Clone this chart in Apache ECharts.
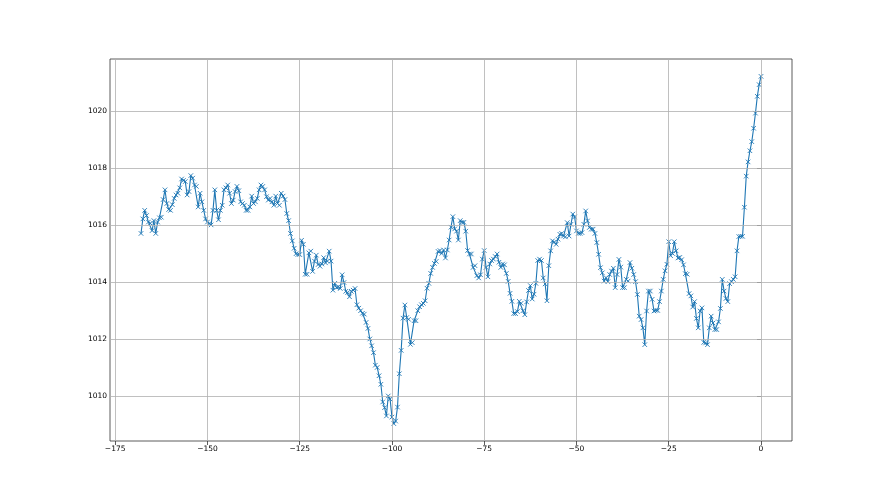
<!DOCTYPE html>
<html>
<head>
<meta charset="utf-8">
<script src="https://cdn.jsdelivr.net/npm/echarts@6/dist/echarts.min.js"></script>
<style>
html,body{margin:0;padding:0;background:#fff;}
#chart{width:880px;height:495px;}
</style>
</head>
<body>
<div id="chart"></div>
<script>
// Time axis: hours before now, one reading every half hour
const startHour = -168;
const stepHours = 0.5;

// Pressure readings (hPa)
const pressure = [
1015.70, 1016.21, 1016.51, 1016.33, 1016.10, 1016.06, 1015.80, 1016.15, 1015.70, 1016.10,
1016.25, 1016.27, 1016.89, 1017.23, 1016.75, 1016.54, 1016.51, 1016.71, 1016.93, 1017.05,
1017.11, 1017.30, 1017.61, 1017.56, 1017.52, 1017.05, 1017.17, 1017.73, 1017.64, 1017.40,
1017.35, 1016.63, 1017.11, 1016.81, 1016.51, 1016.21, 1016.10, 1016.05, 1016.00, 1016.51,
1017.23, 1016.51, 1016.18, 1016.51, 1016.69, 1017.23, 1017.30, 1017.40, 1017.11, 1016.75,
1016.87, 1017.17, 1017.35, 1017.20, 1016.81, 1016.75, 1016.69, 1016.51, 1016.51, 1016.63,
1017.01, 1016.75, 1016.81, 1016.93, 1017.23, 1017.40, 1017.35, 1017.23, 1016.99, 1016.87,
1016.93, 1016.81, 1016.69, 1017.01, 1016.75, 1016.69, 1017.11, 1017.01, 1016.89, 1016.40,
1016.15, 1015.70, 1015.44, 1015.18, 1014.99, 1014.96, 1014.96, 1015.46, 1015.32, 1014.27,
1014.27, 1015.02, 1015.08, 1014.37, 1014.73, 1014.94, 1014.61, 1014.55, 1014.63, 1014.85,
1014.67, 1014.73, 1015.08, 1014.73, 1013.71, 1013.95, 1013.80, 1013.83, 1013.77, 1014.25,
1013.98, 1013.67, 1013.63, 1013.48, 1013.67, 1013.71, 1013.77, 1013.20, 1013.08, 1012.99,
1012.90, 1012.87, 1012.58, 1012.37, 1012.00, 1011.76, 1011.52, 1011.08, 1011.00, 1010.71,
1010.41, 1009.79, 1009.59, 1009.30, 1010.00, 1009.89, 1009.26, 1009.03, 1009.12, 1009.61,
1010.78, 1011.60, 1012.73, 1013.19, 1012.75, 1012.69, 1011.81, 1011.87, 1012.64, 1012.64,
1012.99, 1013.13, 1013.20, 1013.25, 1013.34, 1013.78, 1013.95, 1014.30, 1014.51, 1014.65,
1014.72, 1015.07, 1015.10, 1015.00, 1015.12, 1014.84, 1015.12, 1015.47, 1015.92, 1016.29,
1015.86, 1015.78, 1015.47, 1016.15, 1016.09, 1016.09, 1015.78, 1015.10, 1014.98, 1014.98,
1014.51, 1014.57, 1014.22, 1014.14, 1014.25, 1014.80, 1015.10, 1014.51, 1014.18, 1014.63,
1014.75, 1014.80, 1014.89, 1014.98, 1014.69, 1014.51, 1014.63, 1014.60, 1014.30, 1014.02,
1013.60, 1013.32, 1012.89, 1012.89, 1012.96, 1013.32, 1013.25, 1012.99, 1012.85, 1013.30,
1013.70, 1013.87, 1013.40, 1013.57, 1013.95, 1014.75, 1014.80, 1014.75, 1014.14, 1013.93,
1013.34, 1014.57, 1015.09, 1015.44, 1015.40, 1015.32, 1015.50, 1015.67, 1015.70, 1015.61,
1015.58, 1016.08, 1015.61, 1016.02, 1016.38, 1016.28, 1015.79, 1015.70, 1015.70, 1015.73,
1016.02, 1016.49, 1016.14, 1015.91, 1015.85, 1015.85, 1015.70, 1015.38, 1014.97, 1014.50,
1014.32, 1014.03, 1014.15, 1014.01, 1014.26, 1014.38, 1014.48, 1013.80, 1014.26, 1014.79,
1014.52, 1013.80, 1013.80, 1014.09, 1014.03, 1014.68, 1014.48, 1014.26, 1014.01, 1013.56,
1012.80, 1012.68, 1012.39, 1011.80, 1012.98, 1013.68, 1013.68, 1013.39, 1012.98, 1013.00,
1013.00, 1013.31, 1013.68, 1014.09, 1014.39, 1014.62, 1015.41, 1014.92, 1015.00, 1015.41,
1015.09, 1014.84, 1014.86, 1014.78, 1014.60, 1014.29, 1014.27, 1013.59, 1013.51, 1013.12,
1013.31, 1012.72, 1012.39, 1012.98, 1013.09, 1011.88, 1011.86, 1011.80, 1012.39, 1012.80,
1012.56, 1012.33, 1012.33, 1012.60, 1013.07, 1014.09, 1013.68, 1013.42, 1013.31, 1013.94,
1014.01, 1014.09, 1014.18, 1015.09, 1015.59, 1015.60, 1015.60, 1016.62, 1017.71, 1018.21,
1018.60, 1018.92, 1019.39, 1019.92, 1020.51, 1020.92, 1021.21
];

// Tick labels
const xTicks = [-175, -150, -125, -100, -75, -50, -25, 0];
const yTicks = [1010, 1012, 1014, 1016, 1018, 1020];

const hours = pressure.map((_, i) => startHour + i * stepHours);
const points = pressure.map((v, i) => [hours[i], v]);

// axis limits with matplotlib-like 5% margins
const xMin0 = Math.min(...hours), xMax0 = Math.max(...hours);
const yMin0 = Math.min(...pressure), yMax0 = Math.max(...pressure);
const xPad = (xMax0 - xMin0) * 0.05, yPad = (yMax0 - yMin0) * 0.05;

const fmt = v => (v < 0 ? '\u2212' + Math.abs(v) : String(v));
const labelStyle = { color: '#000', fontSize: 7.5, fontFamily: 'DejaVu Sans' };

const chart = echarts.init(document.getElementById('chart'), null, { renderer: 'canvas' });
chart.setOption({
  animation: false,
  backgroundColor: '#fff',
  grid: { left: 110, top: 59, width: 682, height: 382, show: true, borderColor: '#333', borderWidth: 0.8, backgroundColor: 'transparent' },
  xAxis: {
    type: 'value', min: xMin0 - xPad, max: xMax0 + xPad,
    axisLine: { show: false },
    axisTick: { show: true, length: 4, customValues: xTicks, lineStyle: { color: '#333', width: 0.8 } },
    axisLabel: Object.assign({ customValues: xTicks, formatter: fmt, margin: 4 }, labelStyle),
    splitLine: { show: false }
  },
  yAxis: {
    type: 'value', min: yMin0 - yPad, max: yMax0 + yPad,
    axisLine: { show: false },
    axisTick: { show: true, length: 4, customValues: yTicks, lineStyle: { color: '#333', width: 0.8 } },
    axisLabel: Object.assign({ customValues: yTicks, formatter: fmt, margin: 3 }, labelStyle),
    splitLine: { show: false }
  },
  series: [
    {
      type: 'line', data: [], z: 1, silent: true,
      markLine: {
        silent: true, symbol: ['none', 'none'], animation: false,
        label: { show: false },
        lineStyle: { color: '#b0b0b0', width: 0.8, type: 'solid' },
        emphasis: { disabled: true },
        data: xTicks.map(v => ({ xAxis: v })).concat(yTicks.map(v => ({ yAxis: v })))
      }
    },
    {
      type: 'line', data: points, z: 3,
      showAllSymbol: true,
      symbol: 'path://M0,0L10,10M10,0L0,10',
      symbolSize: 4.5,
      itemStyle: { color: '#1f77b4', borderColor: '#1f77b4', borderWidth: 0.9 },
      lineStyle: { color: '#1f77b4', width: 1.1 },
      emphasis: { disabled: true }
    }
  ]
});
</script>
</body>
</html>
